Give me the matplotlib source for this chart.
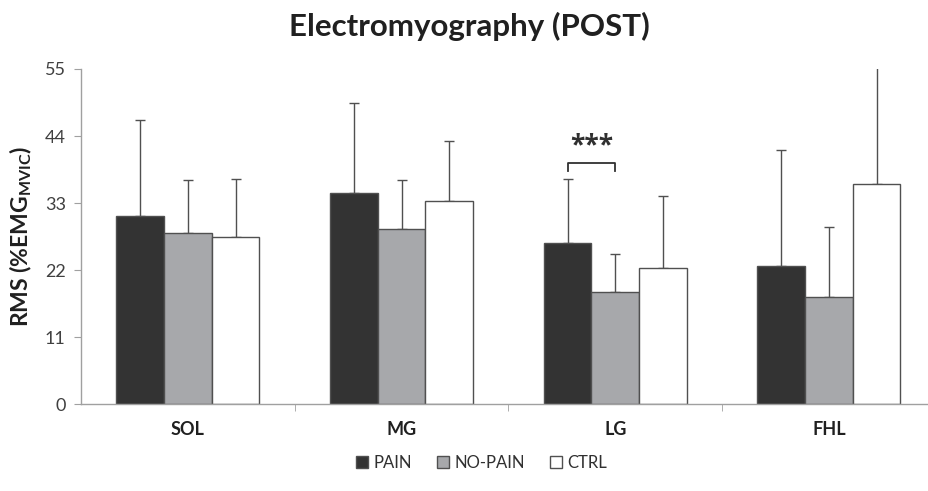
import numpy as np
import matplotlib
matplotlib.use("Agg")
import matplotlib.pyplot as plt

plt.rcParams['font.family'] = ['Lato', 'DejaVu Sans']
plt.rcParams['mathtext.fontset'] = 'custom'
plt.rcParams['mathtext.rm'] = 'Lato'
plt.rcParams['mathtext.bf'] = 'Lato:bold'

muscles = ['SOL', 'MG', 'LG', 'FHL']
groups = ['PAIN', 'NO-PAIN', 'CTRL']
colors = ['#333333', '#a7a8ab', '#ffffff']

# mean RMS and upper SD per group
pain = [30.8, 34.7, 26.5, 22.6]
nopain = [28.1, 28.7, 18.4, 17.5]
ctrl = [27.5, 33.4, 22.3, 36.2]
pain_sd = [15.9, 14.7, 10.5, 19.1]
nopain_sd = [8.7, 8.1, 6.3, 11.6]
ctrl_sd = [9.5, 9.7, 11.8, 20.0]

means = [pain, nopain, ctrl]
sds = [pain_sd, nopain_sd, ctrl_sd]

fig = plt.figure(figsize=(9.29, 4.91), dpi=100)
ax = fig.add_axes([0.0872, 0.177, 0.9128, 0.6825])

x = np.arange(len(muscles))
w = 0.223
for i, (m, s) in enumerate(zip(means, sds)):
    pos = x + (i - 1) * w
    ax.bar(pos, m, w, color=colors[i], edgecolor='#505050', linewidth=1.0,
           label=groups[i], zorder=2)
    ax.errorbar(pos, m, yerr=[np.zeros(len(s)), s], fmt='none',
                ecolor='#505050', elinewidth=1.0, capsize=3.5, capthick=1.0,
                zorder=1)

# significance bracket between PAIN and NO-PAIN in LG
x1, x2 = x[2] - w, x[2]
ax.plot([x1, x1, x2, x2], [38.3, 39.5, 39.5, 38.3], color='#303030', lw=1.3,
        solid_joinstyle='round')
ax.text((x1 + x2) / 2, 40.2, '***', ha='center', va='bottom', fontsize=19,
        fontweight='bold', color='#303030', family='Open Sans')

ax.set_ylim(0, 55)
ax.set_xlim(-0.5, 3.468)
ax.set_yticks([0, 11, 22, 33, 44, 55])
ax.set_xticks(x)
ax.set_xticklabels(muscles, fontsize=13, fontweight='bold', color='#202020')
ax.set_xticks([0.5, 1.5, 2.5], minor=True)
ax.tick_params(axis='x', which='major', length=0, pad=12)
ax.tick_params(axis='x', which='minor', length=5, color='#a0a0a0', direction='out')
ax.tick_params(axis='y', length=5, color='#a0a0a0', labelsize=13,
               labelcolor='#404040', pad=6)

for side in ['top', 'right']:
    ax.spines[side].set_visible(False)
for side in ['left', 'bottom']:
    ax.spines[side].set_color('#a0a0a0')
    ax.spines[side].set_linewidth(1.0)

ax.set_ylabel(r'RMS (%EMG$_{\mathbf{MVIC}}$)', fontsize=16.5, fontweight='bold',
              color='#202020', labelpad=8)
fig.suptitle('Electromyography (POST)', x=0.505, y=0.975, fontsize=22.5,
             fontweight='bold', color='#202020', va='top')

ax.legend(loc='center', bbox_to_anchor=(0.5 - 0.0872 / 2 / 0.9128 + 0.02, -0.175),
          ncol=3, frameon=False, fontsize=12, handlelength=0.75, handleheight=0.75,
          handletextpad=0.3, columnspacing=1.5, labelcolor='#303030')

fig.savefig('out.png', dpi=100)
